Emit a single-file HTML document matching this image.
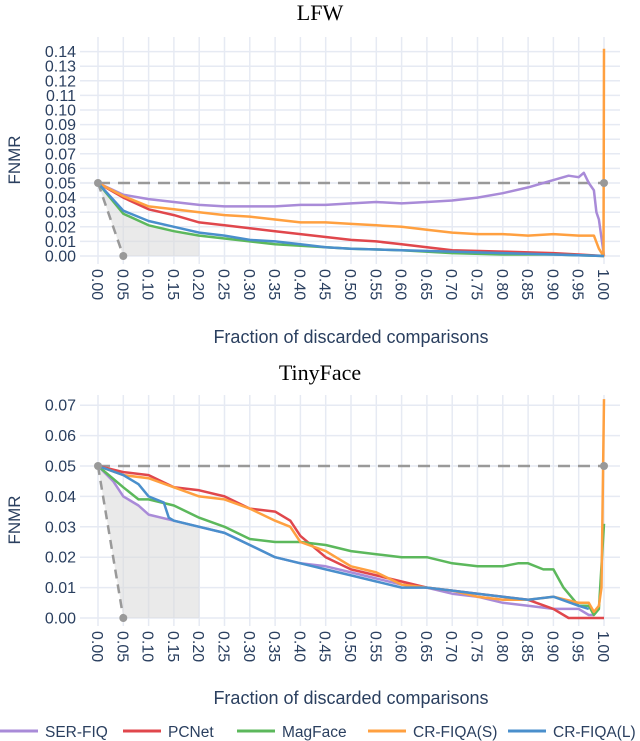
<!DOCTYPE html>
<html><head><meta charset="utf-8"><style>
body{margin:0;background:#fff;width:640px;height:741px;overflow:hidden}
svg{display:block}
</style></head><body>
<svg id="c" width="640" height="741" font-family="'Liberation Sans', sans-serif"></svg>
<script>
const xTicks=[0,0.05,0.1,0.15,0.2,0.25,0.3,0.35,0.4,0.45,0.5,0.55,0.6,0.65,0.7,0.75,0.8,0.85,0.9,0.95,1.0];
const lfwYTicks=[0,0.01,0.02,0.03,0.04,0.05,0.06,0.07,0.08,0.09,0.10,0.11,0.12,0.13,0.14];
const tinyYTicks=[0,0.01,0.02,0.03,0.04,0.05,0.06,0.07];
const seriesNames=["SER-FIQ","PCNet","MagFace","CR-FIQA(S)","CR-FIQA(L)"];
const seriesColors=["#a98bd8","#e0474c","#5cb85c","#ffa040","#4a8fcc"];
// LFW
const lfwSer=[[0,0.05],[0.05,0.042],[0.1,0.039],[0.15,0.037],[0.2,0.035],[0.25,0.034],[0.3,0.034],[0.35,0.034],[0.4,0.035],[0.45,0.035],[0.5,0.036],[0.55,0.037],[0.6,0.036],[0.65,0.037],[0.7,0.038],[0.75,0.040],[0.8,0.043],[0.85,0.047],[0.88,0.05],[0.9,0.052],[0.93,0.055],[0.95,0.054],[0.96,0.057],[0.97,0.05],[0.98,0.045],[0.985,0.03],[0.99,0.025],[1.0,0.0]];
const lfwPc=[[0,0.05],[0.05,0.040],[0.1,0.032],[0.15,0.028],[0.2,0.023],[0.25,0.021],[0.3,0.019],[0.35,0.017],[0.4,0.015],[0.45,0.013],[0.5,0.011],[0.55,0.010],[0.6,0.008],[0.65,0.006],[0.7,0.004],[0.8,0.003],[0.9,0.002],[0.95,0.001],[1,0]];
const lfwMag=[[0,0.05],[0.05,0.029],[0.1,0.021],[0.15,0.017],[0.2,0.014],[0.25,0.012],[0.3,0.010],[0.35,0.008],[0.4,0.007],[0.45,0.006],[0.5,0.005],[0.6,0.004],[0.7,0.002],[0.8,0.001],[0.9,0.001],[1,0]];
const lfwCrS=[[0,0.05],[0.05,0.041],[0.1,0.034],[0.15,0.032],[0.2,0.030],[0.25,0.028],[0.3,0.027],[0.35,0.025],[0.4,0.023],[0.45,0.023],[0.5,0.022],[0.55,0.021],[0.6,0.020],[0.65,0.018],[0.7,0.016],[0.75,0.015],[0.8,0.015],[0.85,0.014],[0.9,0.015],[0.95,0.014],[0.98,0.014],[0.99,0.005],[0.999,0.0],[1.0,0.142]];
const lfwCrL=[[0,0.05],[0.05,0.031],[0.1,0.024],[0.15,0.020],[0.2,0.016],[0.25,0.014],[0.3,0.011],[0.35,0.010],[0.4,0.008],[0.45,0.006],[0.5,0.005],[0.6,0.004],[0.7,0.003],[0.8,0.002],[0.9,0.001],[1,0]];
// TinyFace
const tinySer=[[0,0.05],[0.03,0.045],[0.05,0.040],[0.08,0.037],[0.1,0.034],[0.15,0.032],[0.2,0.030],[0.25,0.028],[0.3,0.024],[0.35,0.020],[0.4,0.018],[0.45,0.017],[0.5,0.015],[0.55,0.013],[0.6,0.011],[0.65,0.010],[0.7,0.008],[0.75,0.007],[0.8,0.005],[0.85,0.004],[0.9,0.003],[0.95,0.003],[0.97,0.001],[0.98,0.001]];
const tinyPc=[[0,0.05],[0.05,0.048],[0.1,0.047],[0.15,0.043],[0.2,0.042],[0.25,0.040],[0.3,0.036],[0.35,0.035],[0.38,0.032],[0.4,0.027],[0.45,0.020],[0.5,0.016],[0.55,0.014],[0.6,0.012],[0.65,0.010],[0.7,0.009],[0.75,0.008],[0.8,0.007],[0.85,0.006],[0.9,0.003],[0.93,0.0],[1.0,0.0]];
const tinyMag=[[0,0.05],[0.05,0.043],[0.08,0.039],[0.1,0.039],[0.15,0.037],[0.2,0.033],[0.25,0.030],[0.3,0.026],[0.35,0.025],[0.4,0.025],[0.45,0.024],[0.5,0.022],[0.55,0.021],[0.6,0.020],[0.65,0.020],[0.7,0.018],[0.75,0.017],[0.8,0.017],[0.83,0.018],[0.85,0.018],[0.88,0.016],[0.9,0.016],[0.92,0.010],[0.95,0.004],[0.97,0.004],[0.98,0.001],[0.99,0.003],[1.0,0.031]];
const tinyCrS=[[0,0.05],[0.05,0.047],[0.1,0.046],[0.15,0.043],[0.2,0.040],[0.25,0.039],[0.3,0.036],[0.35,0.032],[0.38,0.030],[0.4,0.025],[0.45,0.022],[0.5,0.017],[0.55,0.015],[0.6,0.011],[0.65,0.010],[0.7,0.009],[0.75,0.007],[0.8,0.006],[0.85,0.006],[0.9,0.007],[0.95,0.005],[0.97,0.005],[0.98,0.002],[0.99,0.004],[0.995,0.010],[1.0,0.072]];
const tinyCrL=[[0,0.05],[0.05,0.047],[0.08,0.044],[0.1,0.040],[0.13,0.038],[0.14,0.033],[0.15,0.032],[0.2,0.030],[0.25,0.028],[0.3,0.024],[0.35,0.020],[0.4,0.018],[0.45,0.016],[0.5,0.014],[0.55,0.012],[0.6,0.010],[0.65,0.010],[0.7,0.009],[0.75,0.008],[0.8,0.007],[0.85,0.006],[0.9,0.007],[0.95,0.004],[0.97,0.003]];

const svg=document.getElementById('c');
const NS='http://www.w3.org/2000/svg';
function el(tag,attrs,parent){const e=document.createElementNS(NS,tag);for(const k in attrs)e.setAttribute(k,attrs[k]);(parent||svg).appendChild(e);return e;}

function chart(cfg){
  const g=el('g',{});
  
  
  const X=v=>98+v*506, Y=v=>cfg.y0-v*cfg.ppu;
  const top=cfg.top, bot=cfg.y0+8;
  xTicks.forEach(t=>{const l=el('line',{x1:X(t),x2:X(t),y1:top,y2:bot,stroke:'#e6eaf3','stroke-width':1.5},g);
    });
  cfg.yTicks.forEach(t=>{const l=el('line',{x1:80,x2:620,y1:Y(t),y2:Y(t),stroke:'#e6eaf3','stroke-width':1.5},g);
    
    const tx=el('text',{x:76,y:Y(t)+5.5,'text-anchor':'end','font-size':cfg.fs,fill:'#2a3f5f'},g);tx.textContent=t.toFixed(2);
    });
  xTicks.forEach(t=>{const tx=el('text',{transform:`translate(${X(t)-6},${cfg.y0+13}) rotate(90)`,'font-size':16,fill:'#2a3f5f'},g);tx.textContent=t.toFixed(2);
    });
  const low=cfg.series[cfg.lowIdx].filter(p=>p[0]<=0.2);
  let d=`M${X(0)},${Y(0.05)} L${X(0.05)},${Y(0)} L${X(0.2)},${Y(0)} `;
  for(let i=low.length-1;i>=0;i--)d+=`L${X(low[i][0])},${Y(low[i][1])} `;
  const sh=el('path',{d:d+'Z',fill:'#d9d9d9','fill-opacity':0.55},g);
  
  const dl=el('line',{x1:X(0),y1:Y(0.05),x2:X(0.05),y2:Y(0),stroke:'#999','stroke-width':2.5,'stroke-dasharray':'9,6'},g);
  
  const hl=el('line',{x1:X(0),y1:Y(0.05),x2:X(1),y2:Y(0.05),stroke:'#999','stroke-width':2.5,'stroke-dasharray':'12,8'},g);
  
  cfg.series.forEach((s,i)=>{
    let pd='';s.forEach((p,j)=>{pd+=(j?'L':'M')+X(p[0]).toFixed(1)+','+Y(p[1]).toFixed(1)+' ';});
    const pl=el('path',{d:pd,fill:'none',stroke:seriesColors[i],'stroke-width':2.5,'stroke-linejoin':'round'},g);
    
    
  });
  [[0,0.05],[0.05,0],[1,0.05]].forEach(p=>{const c=el('circle',{cx:X(p[0]),cy:Y(p[1]),r:4,fill:'#999'},g);
    });
  const tt=el('text',{x:320,y:cfg.titleY,'text-anchor':'middle','font-size':22,'font-family':"'Liberation Serif', serif",fill:'#000'},g);tt.textContent=cfg.title;
  
  const yt=el('text',{transform:`translate(20,${cfg.yTitleY}) rotate(-90)`,'text-anchor':'middle','font-size':17,fill:'#2a3f5f'},g);yt.textContent='FNMR';
  
  const xt=el('text',{x:351,y:cfg.xTitleY,'text-anchor':'middle','font-size':18,fill:'#2a3f5f'},g);xt.textContent='Fraction of discarded comparisons';
  
}
chart({name:'lfw-chart',title:'LFW',titleY:20,top:37,y0:256,ppu:1460,yTicks:lfwYTicks,fs:16,yTitleY:160,xTitleY:343,
  series:[lfwSer,lfwPc,lfwMag,lfwCrS,lfwCrL],lowIdx:2});
chart({name:'tinyface-chart',title:'TinyFace',titleY:380,top:395,y0:618,ppu:3040,yTicks:tinyYTicks,fs:16,yTitleY:520,xTitleY:704,
  series:[tinySer,tinyPc,tinyMag,tinyCrS,tinyCrL],lowIdx:0});
const legX=[0,123,237,368,508];
seriesNames.forEach((n,i)=>{
  const g=el('g',{});
  
  
  el('line',{x1:legX[i],x2:legX[i]+38,y1:731,y2:731,stroke:seriesColors[i],'stroke-width':3},g);
  const t=el('text',{x:legX[i]+45,y:737,'font-size':15.5,fill:'#2a3f5f'},g);t.textContent=n;
});
</script>
</body></html>
